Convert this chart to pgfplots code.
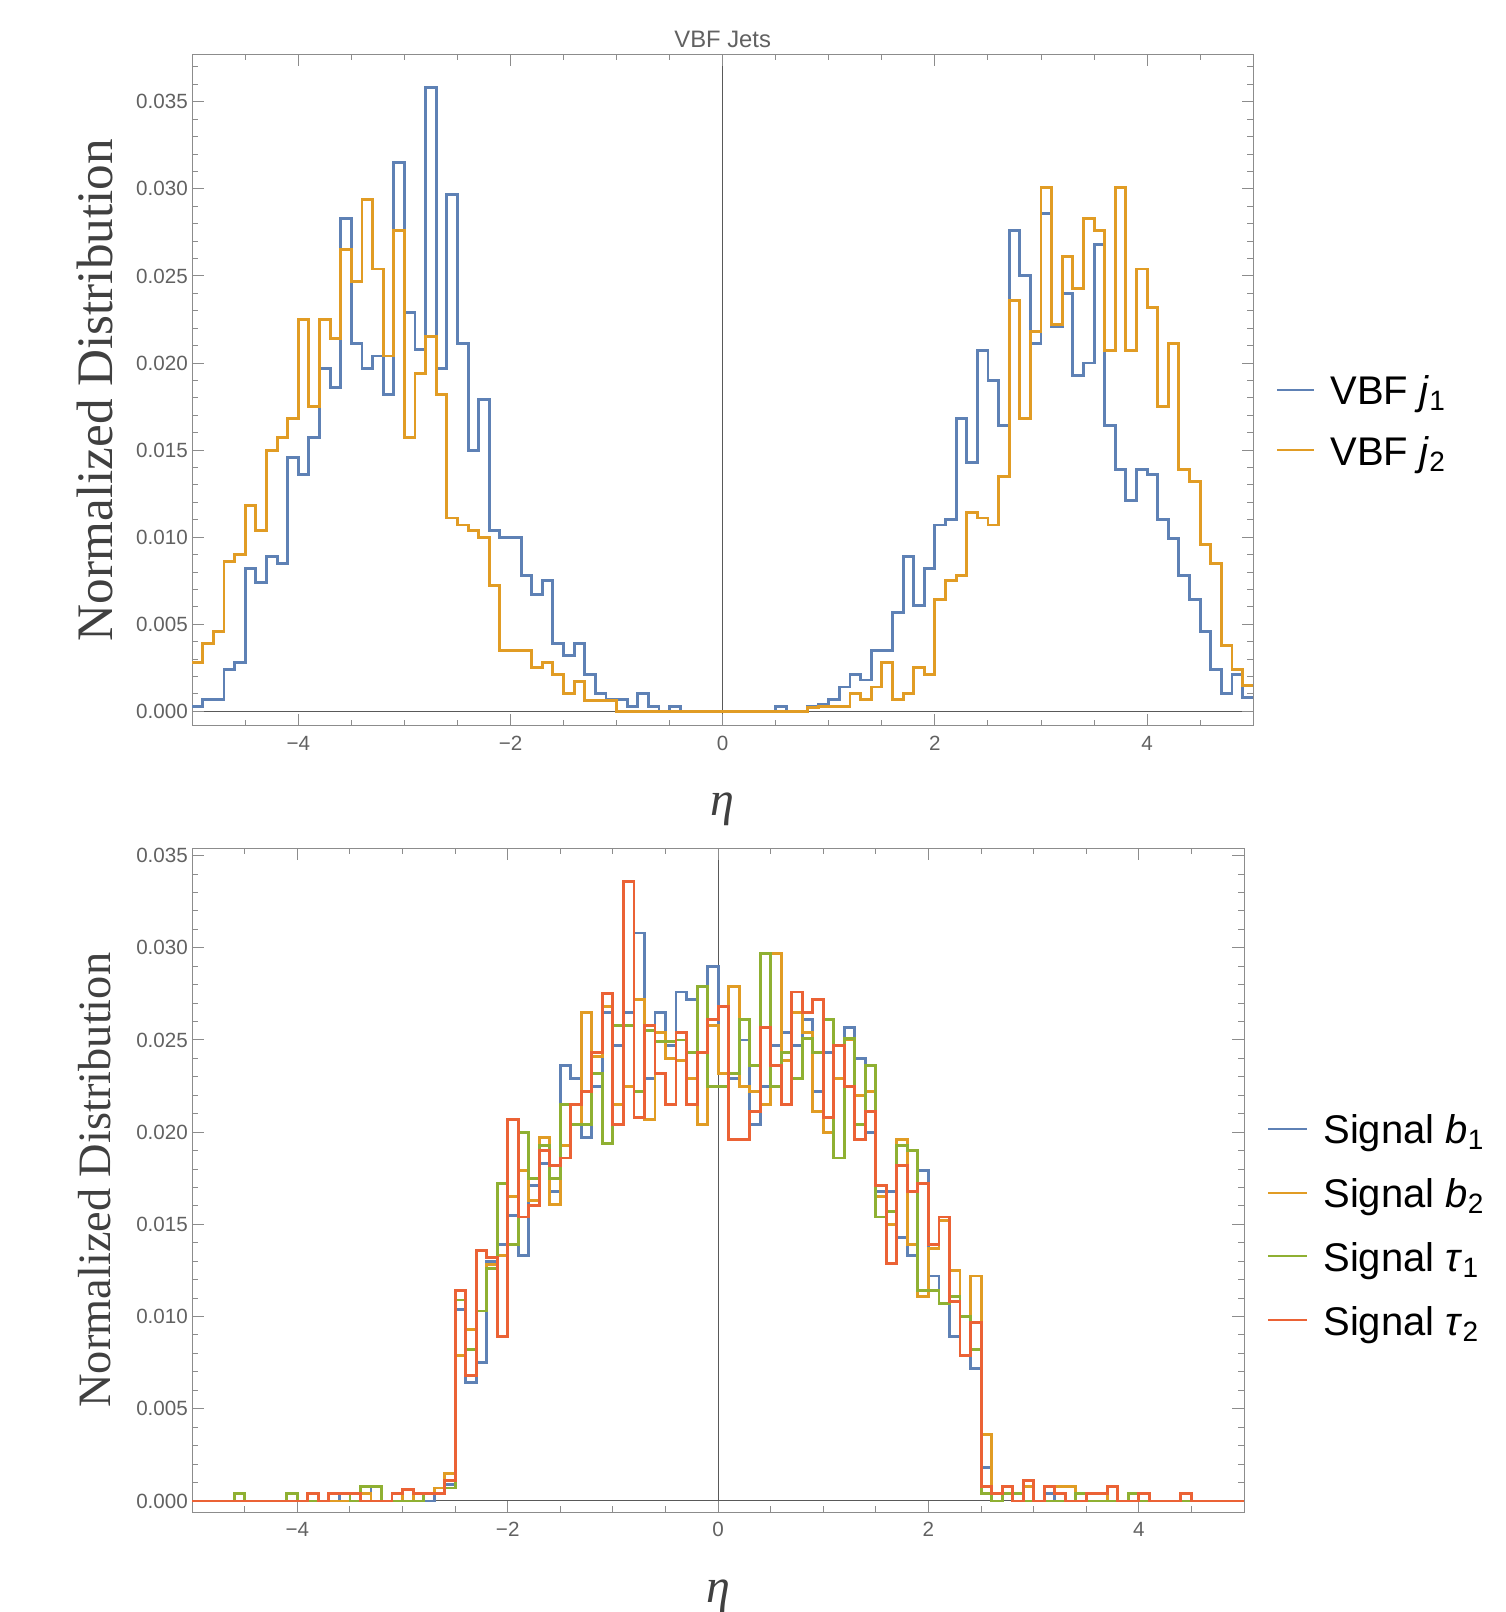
\documentclass[border=0pt]{standalone}
\usepackage{fontspec}
\setmainfont{Liberation Sans}
\newfontfamily\serifface{Liberation Serif}
\usepackage{pgfplots}
\pgfplotsset{compat=1.18}
\usepackage{pgfplotstable}

\definecolor{mblue}{rgb}{0.368417,0.506779,0.709798}
\definecolor{morange}{rgb}{0.880722,0.611041,0.142051}
\definecolor{mgreen}{rgb}{0.560181,0.691569,0.194885}
\definecolor{mred}{rgb}{0.922526,0.385626,0.209179}
\definecolor{framegray}{gray}{0.55}
\definecolor{labelgray}{gray}{0.38}

% bin left edge, normalized counts (last row closes the final bin)
\pgfplotstableread{
x j1 j2
-5.0 0.0003 0.0028
-4.9 0.0007 0.0039
-4.8 0.0007 0.0046
-4.7 0.0024 0.0086
-4.6 0.0028 0.0090
-4.5 0.0082 0.0118
-4.4 0.0074 0.0104
-4.3 0.0089 0.0150
-4.2 0.0085 0.0157
-4.1 0.0146 0.0168
-4.0 0.0136 0.0225
-3.9 0.0157 0.0175
-3.8 0.0197 0.0225
-3.7 0.0186 0.0214
-3.6 0.0283 0.0265
-3.5 0.0211 0.0247
-3.4 0.0197 0.0294
-3.3 0.0204 0.0254
-3.2 0.0182 0.0204
-3.1 0.0315 0.0276
-3.0 0.0229 0.0157
-2.9 0.0208 0.0194
-2.8 0.0358 0.0215
-2.7 0.0197 0.0182
-2.6 0.0297 0.0111
-2.5 0.0211 0.0107
-2.4 0.0150 0.0104
-2.3 0.0179 0.0100
-2.2 0.0104 0.0072
-2.1 0.0100 0.0035
-2.0 0.0100 0.0035
-1.9 0.0078 0.0035
-1.8 0.0067 0.0025
-1.7 0.0075 0.0028
-1.6 0.0039 0.0021
-1.5 0.0032 0.0010
-1.4 0.0039 0.0017
-1.3 0.0021 0.0006
-1.2 0.0010 0.0006
-1.1 0.0007 0.0006
-1.0 0.0007 0.0000
-0.9 0.0003 0.0000
-0.8 0.0010 0.0000
-0.7 0.0003 0.0000
-0.6 0.0000 0.0000
-0.5 0.0003 0.0000
-0.4 0.0000 0.0000
-0.3 0.0000 0.0000
-0.2 0.0000 0.0000
-0.1 0.0000 0.0000
0.0 0.0000 0.0000
0.1 0.0000 0.0000
0.2 0.0000 0.0000
0.3 0.0000 0.0000
0.4 0.0000 0.0000
0.5 0.0003 0.0000
0.6 0.0000 0.0000
0.7 0.0000 0.0000
0.8 0.0003 0.0002
0.9 0.0004 0.0003
1.0 0.0007 0.0003
1.1 0.0014 0.0003
1.2 0.0021 0.0010
1.3 0.0018 0.0007
1.4 0.0035 0.0014
1.5 0.0035 0.0028
1.6 0.0057 0.0007
1.7 0.0089 0.0010
1.8 0.0061 0.0025
1.9 0.0082 0.0021
2.0 0.0107 0.0064
2.1 0.0110 0.0075
2.2 0.0168 0.0078
2.3 0.0143 0.0114
2.4 0.0207 0.0111
2.5 0.0190 0.0107
2.6 0.0164 0.0135
2.7 0.0276 0.0236
2.8 0.0250 0.0168
2.9 0.0211 0.0218
3.0 0.0286 0.0301
3.1 0.0221 0.0222
3.2 0.0240 0.0261
3.3 0.0193 0.0243
3.4 0.0200 0.0283
3.5 0.0268 0.0276
3.6 0.0164 0.0207
3.7 0.0139 0.0301
3.8 0.0121 0.0207
3.9 0.0139 0.0254
4.0 0.0136 0.0232
4.1 0.0110 0.0175
4.2 0.0099 0.0211
4.3 0.0078 0.0139
4.4 0.0064 0.0132
4.5 0.0046 0.0096
4.6 0.0024 0.0085
4.7 0.0010 0.0038
4.8 0.0021 0.0024
4.9 0.0008 0.0015
5.0 0.0008 0.0015
}\vbfjets

\pgfplotstableread{
x b1 b2 t1 t2
-5.0 0 0 0 0
-4.9 0 0 0 0
-4.8 0 0 0 0
-4.7 0 0 0 0
-4.6 0 0.0004 0.0004 0
-4.5 0 0 0 0
-4.4 0 0 0 0
-4.3 0 0 0 0
-4.2 0 0 0 0
-4.1 0 0.0004 0.0004 0
-4.0 0 0 0 0
-3.9 0 0.0004 0 0.0004
-3.8 0 0 0 0
-3.7 0 0 0.0004 0.0004
-3.6 0.0004 0 0.0004 0.0004
-3.5 0 0.0004 0 0.0004
-3.4 0.0004 0.0004 0.0008 0
-3.3 0.0008 0 0.0008 0
-3.2 0 0 0 0
-3.1 0 0.0004 0 0.0004
-3.0 0 0 0 0.0006
-2.9 0.0004 0.0004 0 0.0004
-2.8 0 0.0004 0.0004 0.0004
-2.7 0.0004 0.0007 0.0004 0.0004
-2.6 0.0009 0.0015 0.0007 0.0011
-2.5 0.0104 0.0079 0.0109 0.0114
-2.4 0.0064 0.0093 0.0082 0.0068
-2.3 0.0075 0.0103 0.0103 0.0136
-2.2 0.0130 0.0128 0.0126 0.0132
-2.1 0.0139 0.0133 0.0172 0.0089
-2.0 0.0155 0.0165 0.0139 0.0207
-1.9 0.0133 0.0179 0.0200 0.0154
-1.8 0.0171 0.0163 0.0175 0.0160
-1.7 0.0183 0.0197 0.0193 0.0190
-1.6 0.0168 0.0161 0.0175 0.0182
-1.5 0.0236 0.0193 0.0215 0.0186
-1.4 0.0229 0.0204 0.0204 0.0215
-1.3 0.0197 0.0265 0.0204 0.0222
-1.2 0.0225 0.0241 0.0232 0.0243
-1.1 0.0265 0.0268 0.0194 0.0275
-1.0 0.0247 0.0215 0.0258 0.0204
-0.9 0.0265 0.0225 0.0258 0.0336
-0.8 0.0308 0.0272 0.0222 0.0208
-0.7 0.0229 0.0207 0.0255 0.0258
-0.6 0.0265 0.0254 0.0249 0.0232
-0.5 0.0247 0.0240 0.0249 0.0215
-0.4 0.0276 0.0239 0.0250 0.0254
-0.3 0.0272 0.0229 0.0243 0.0215
-0.2 0.0243 0.0204 0.0279 0.0243
-0.1 0.0290 0.0258 0.0225 0.0261
0.0 0.0232 0.0232 0.0225 0.0268
0.1 0.0229 0.0279 0.0232 0.0196
0.2 0.0250 0.0225 0.0261 0.0196
0.3 0.0204 0.0222 0.0236 0.0211
0.4 0.0225 0.0215 0.0297 0.0257
0.5 0.0247 0.0297 0.0225 0.0236
0.6 0.0254 0.0239 0.0243 0.0215
0.7 0.0247 0.0265 0.0229 0.0276
0.8 0.0261 0.0254 0.0251 0.0265
0.9 0.0222 0.0211 0.0243 0.0272
1.0 0.0243 0.0200 0.0261 0.0208
1.1 0.0229 0.0229 0.0186 0.0247
1.2 0.0257 0.0250 0.0251 0.0225
1.3 0.0240 0.0220 0.0204 0.0196
1.4 0.0200 0.0222 0.0236 0.0211
1.5 0.0168 0.0165 0.0154 0.0171
1.6 0.0168 0.0150 0.0157 0.0129
1.7 0.0143 0.0196 0.0193 0.0182
1.8 0.0133 0.0139 0.0190 0.0168
1.9 0.0179 0.0111 0.0114 0.0172
2.0 0.0122 0.0137 0.0114 0.0139
2.1 0.0107 0.0152 0.0107 0.0154
2.2 0.0089 0.0125 0.0111 0.0108
2.3 0.0079 0.0100 0.0100 0.0079
2.4 0.0072 0.0122 0.0082 0.0097
2.5 0.0018 0.0036 0.0004 0.0008
2.6 0.0004 0.0004 0 0.0004
2.7 0.0004 0.0008 0.0004 0.0008
2.8 0.0004 0.0004 0.0004 0
2.9 0 0.0008 0 0.0011
3.0 0 0 0 0
3.1 0.0004 0.0008 0 0.0008
3.2 0 0.0008 0 0.0004
3.3 0 0.0008 0 0
3.4 0 0.0004 0.0004 0
3.5 0 0.0004 0 0.0004
3.6 0 0.0004 0 0.0004
3.7 0 0 0 0.0008
3.8 0 0 0 0
3.9 0 0 0.0004 0
4.0 0 0.0004 0 0.0004
4.1 0 0 0 0
4.2 0 0 0 0
4.3 0 0 0 0
4.4 0 0.0004 0 0.0004
4.5 0 0 0 0
4.6 0 0 0 0
4.7 0 0 0 0
4.8 0 0 0 0
4.9 0 0 0 0
5.0 0 0 0 0
}\signal

\pgfplotsset{
  mmaframe/.style={
    scale only axis,
    xmin=-5, xmax=5,
    xtick={-4,-2,0,2,4},
    xticklabels={−4,−2,0,2,4},
    minor xtick={-5,-4.5,...,5},
    ytick={0,0.005,0.01,0.015,0.02,0.025,0.03,0.035},
    yticklabels={0.000,0.005,0.010,0.015,0.020,0.025,0.030,0.035},
    scaled y ticks=false,
    minor ytick={0.001,0.002,0.003,0.004,0.006,0.007,0.008,0.009,0.011,0.012,0.013,0.014,
      0.016,0.017,0.018,0.019,0.021,0.022,0.023,0.024,0.026,0.027,0.028,0.029,
      0.031,0.032,0.033,0.034,0.036,0.037},
    tick align=inside,
    major tick length=5.8pt,
    minor tick length=2.9pt,
    tick style={framegray, line width=0.5pt},
    axis line style={framegray, line width=0.5pt},
    ticklabel style={font=\fontsize{10.3}{12}\selectfont, text=labelgray},
    /pgf/number format/assume math mode=true,
    yticklabel style={inner sep=2pt},
    xticklabel style={inner sep=5pt},
    extra x ticks={0}, extra x tick labels={},
    extra y ticks={0}, extra y tick labels={},
    extra tick style={grid=major, major grid style={black!65, line width=0.5pt}},
    ylabel={Normalized Distribution},
    xlabel={η},
    legend cell align=left,
    legend style={draw=none, fill=none, anchor=west, inner sep=0pt, column sep=7.7pt,
      font=\fontsize{20}{24}\selectfont, yshift=-1.5pt,
      nodes={inner sep=0pt, text height=15pt, text depth=5pt}},
    hist/.style={const plot, line width=1.45pt},
  }
}

\begin{document}
\begin{tikzpicture}
\useasboundingbox (0,0) rectangle (752.5pt,806pt);

\begin{axis}[
  mmaframe,
  at={(96.1pt,443.1pt)}, anchor=south west,
  width=530.5pt, height=335.7pt,
  ymin=-0.00083, ymax=0.03772,
  title={VBF Jets},
  title style={at={(axis description cs:0.5,1)}, anchor=south, inner sep=0pt, yshift=-2.7pt,
    font=\fontsize{11.9}{12}\selectfont, text=labelgray},
  ylabel style={at={(axis description cs:-0.092,0.5)}, anchor=center,
    font=\serifface\fontsize{25.6}{26}\selectfont, text=black!75},
  xlabel style={at={(axis description cs:0.5,-0.125)}, anchor=center,
    font=\serifface\itshape\fontsize{24}{26}\selectfont, text=black!75},
  legend style={at={(axis description cs:1,0.4526)}, xshift=11.3pt, row sep=10.3pt},
  legend image code/.code={\draw[#1, line width=1pt] (0pt,2.5pt) -- (18.5pt,2.5pt);},
]
\addplot[hist, mblue] table[x=x, y=j1] {\vbfjets};
\addlegendentry{VBF \textit{j}\textsubscript{1}}
\addplot[hist, morange] table[x=x, y=j2] {\vbfjets};
\addlegendentry{VBF \textit{j}\textsubscript{2}}
\end{axis}

\begin{axis}[
  mmaframe,
  at={(96.1pt,49.9pt)}, anchor=south west,
  width=525.9pt, height=332.0pt,
  ymin=-0.00061, ymax=0.0354,
  ylabel style={at={(axis description cs:-0.0928,0.5)}, anchor=center,
    font=\serifface\fontsize{23.2}{24}\selectfont, text=black!75},
  xlabel style={at={(axis description cs:0.5,-0.127)}, anchor=center,
    font=\serifface\itshape\fontsize{24}{26}\selectfont, text=black!75},
  legend style={at={(axis description cs:1,0.4304)}, xshift=11.3pt, row sep=11.9pt},
  legend image code/.code={\draw[#1, line width=1pt] (0pt,2.5pt) -- (19.5pt,2.5pt);},
]
\addplot[hist, mblue] table[x=x, y=b1] {\signal};
\addlegendentry{Signal \textit{b}\textsubscript{1}}
\addplot[hist, morange] table[x=x, y=b2] {\signal};
\addlegendentry{Signal \textit{b}\textsubscript{2}}
\addplot[hist, mgreen] table[x=x, y=t1] {\signal};
\addlegendentry{Signal \textit{τ}\textsubscript{1}}
\addplot[hist, mred] table[x=x, y=t2] {\signal};
\addlegendentry{Signal \textit{τ}\textsubscript{2}}
\end{axis}
\end{tikzpicture}
\end{document}
